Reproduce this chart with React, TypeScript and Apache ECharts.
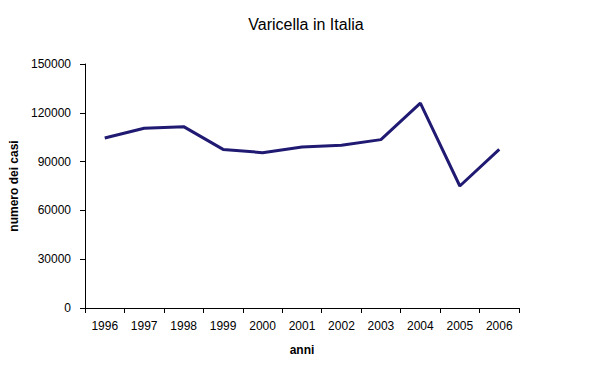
import React, { useEffect, useRef } from "react";
import * as echarts from "echarts";

const years = ["1996", "1997", "1998", "1999", "2000", "2001", "2002", "2003", "2004", "2005", "2006"];
const cases = [104500, 110500, 111500, 97500, 95500, 99000, 100000, 103500, 126000, 75000, 97500];
const yTicks = { min: 0, max: 150000, interval: 30000 };

const FONT = "Arial, 'Liberation Sans', sans-serif";

export default function App() {
  const ref = useRef<HTMLDivElement>(null);
  useEffect(() => {
    if (!ref.current) return;
    const chart = echarts.init(ref.current, null, { renderer: "svg" });
    chart.setOption({
      animation: false,
      backgroundColor: "#ffffff",
      title: {
        text: "Varicella in Italia",
        left: 301,
        textAlign: "center",
        top: 11,
        textStyle: { fontFamily: FONT, fontSize: 16, fontWeight: "normal", color: "#000" },
      },
      grid: { left: 85, right: 85, top: 64, bottom: 75, containLabel: false },
      xAxis: {
        type: "category",
        data: years,
        boundaryGap: true,
        name: "anni",
        nameLocation: "middle",
        nameGap: 36,
        nameTextStyle: { fontFamily: FONT, fontSize: 12, fontWeight: "bold", color: "#000" },
        axisLine: { lineStyle: { color: "#000", width: 1 } },
        axisTick: { show: true, length: 5, interval: 0, lineStyle: { color: "#000" } },
        axisLabel: { fontFamily: FONT, fontSize: 12, color: "#000", margin: 12, interval: 0 },
        splitLine: { show: false },
      },
      yAxis: {
        type: "value",
        min: yTicks.min,
        max: yTicks.max,
        interval: yTicks.interval,
        name: "numero dei casi",
        nameLocation: "middle",
        nameGap: 57,
        nameTextStyle: { fontFamily: FONT, fontSize: 12, fontWeight: "bold", color: "#000" },
        axisLine: { show: true, lineStyle: { color: "#000", width: 1 } },
        axisTick: { show: true, length: 5, lineStyle: { color: "#000" } },
        axisLabel: {
          fontFamily: FONT,
          fontSize: 12,
          color: "#000",
          margin: 14,
          formatter: (v: number) => String(v),
        },
        splitLine: { show: false },
      },
      series: [
        {
          type: "line",
          data: cases,
          showSymbol: false,
          symbol: "none",
          lineStyle: { color: "#201a72", width: 3 },
          itemStyle: { color: "#201a72" },
        },
      ],
    });
    return () => chart.dispose();
  }, []);
  return <div ref={ref} style={{ width: 604, height: 383, position: "absolute", left: 0, top: 0 }} />;
}
